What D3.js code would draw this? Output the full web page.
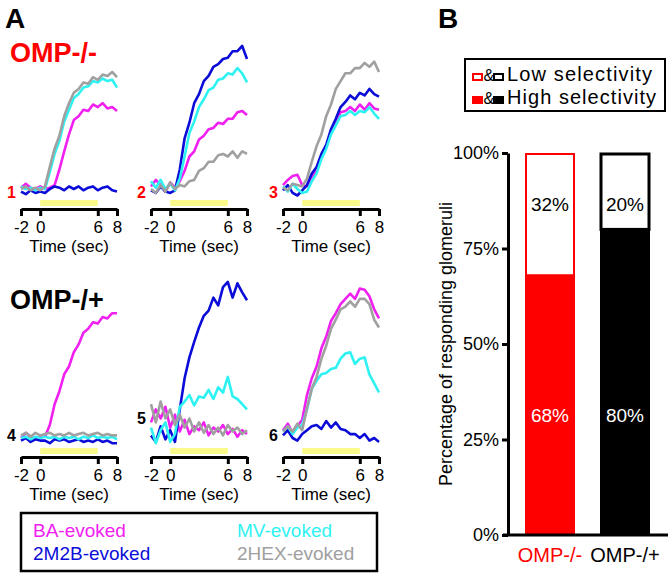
<!DOCTYPE html>
<html><head><meta charset="utf-8">
<script src="https://cdn.jsdelivr.net/npm/d3@7"></script>
<style>
body{margin:0;background:#fff;}
text{font-family:Arial,"Liberation Sans",Helvetica,sans-serif;}
</style>
</head><body>
<svg id="c" width="672" height="576"></svg>
<script>
// ---------- DATA ----------
const times = [-2,-1.5,-1,-0.5,0,0.5,1,1.5,2,2.5,3,3.5,4,4.5,5,5.5,6,6.5,7,7.5,8];
const odorants = ["BA-evoked","2M2B-evoked","MV-evoked","2HEX-evoked"];
const odorColors = ["#f020f0","#0c0cd8","#2ef2f2","#a0a0a0"];
const timeTicks = [-2,0,6,8];
const stimulus = [0,6];
const glomLabels = ["1","2","3","4","5","6"];
const genotypeA = ["OMP-/-","OMP-/+"];

// glomerulus 1 (OMP-/-)
const g1BA   = [1,4,1,0,2,0,1,3,15,29,42,53,56,61,60,65,63,66,62,63,60];
const g1M2B  = [-2,-4,-1,-3,-2,-3,0,2,1,-1,2,0,2,-1,1,2,-1,1,2,-1,-2];
const g1MV   = [2,0,1,-1,1,0,13,27,37,52,61,70,73,78,79,83,82,85,83,84,78];
const g1HEX  = [0,2,-1,1,-1,2,17,31,41,56,66,74,77,82,81,86,84,88,87,90,86];
// glomerulus 2
const g2BA   = [2,7,3,-2,5,1,6,14,25,29,38,41,46,47,51,50,54,54,59,60,57];
const g2M2B  = [-1,-3,2,-2,-3,-1,15,39,51,66,73,83,87,94,96,100,101,106,106,110,100];
const g2MV   = [6,1,7,0,4,-1,8,25,43,52,63,69,76,78,84,85,89,88,93,89,82];
const g2HEX  = [0,-3,3,-2,5,0,3,2,6,7,14,16,21,21,26,27,25,29,24,29,27];
// glomerulus 3
const g3BA   = [3,7,10,11,3,2,9,15,25,32,43,51,59,60,63,60,65,61,66,62,61];
const g3M2B  = [-1,3,-3,-5,-1,3,12,17,27,34,46,54,63,67,72,69,74,72,77,73,71];
const g3MV   = [2,-2,4,0,-3,-2,6,12,23,31,42,49,56,57,60,57,60,59,63,58,54];
const g3HEX  = [1,-1,4,3,2,8,21,33,42,56,65,77,83,89,89,93,93,97,94,98,90];
// glomerulus 4 (OMP-/+)
const g4BA   = [0,4,1,-1,1,1,10,26,36,49,55,66,72,81,84,89,88,93,92,96,96];
const g4M2B  = [-2,0,-3,-1,-2,-2,-4,-1,-2,-1,-3,-2,-1,-3,-2,-3,-1,-3,-2,-4,-4];
const g4MV   = [0,1,-1,1,0,1,0,1,-1,1,0,1,-1,1,0,2,0,1,0,1,-1];
const g4HEX  = [2,4,1,4,2,3,4,2,3,2,4,2,3,4,2,3,4,2,3,2,2];
// glomerulus 5
const g5BA   = [12,22,15,24,8,18,5,14,3,9,6,12,2,8,5,10,3,7,1,6,3];
const g5M2B  = [2,-3,9,-1,6,-3,22,46,62,74,85,94,98,108,102,116,120,108,119,112,106];
const g5MV   = [8,-4,6,12,-3,3,24,28,33,25,32,31,37,30,39,35,47,32,30,26,22];
const g5HEX  = [26,12,28,15,22,10,18,8,15,5,12,4,10,3,8,2,10,5,8,3,6];
// glomerulus 6
const g6BA   = [6,11,4,9,14,33,46,55,69,78,90,96,103,107,111,107,115,114,109,99,92];
const g6M2B  = [2,6,0,-2,3,6,9,10,7,13,8,12,7,6,3,3,0,3,-2,0,-3];
const g6MV   = [5,9,3,8,10,22,38,44,49,50,53,54,61,65,66,57,61,62,49,42,35];
const g6HEX  = [5,9,5,11,6,23,38,47,61,71,84,91,99,101,105,101,107,107,103,91,85];

// Panel B
const groups = ["OMP-/-","OMP-/+"];
const highSel = [68,80];
const lowSel = [32,20];
const groupColors = ["#ff0000","#000000"];
const pctTicks = [0,25,50,75,100];
const legendB = ["Low selectivity","High selectivity"];

// ---------- BUILD ----------
const traces = [
  [g1BA,g1M2B,g1MV,g1HEX],[g2BA,g2M2B,g2MV,g2HEX],[g3BA,g3M2B,g3MV,g3HEX],
  [g4BA,g4M2B,g4MV,g4HEX],[g5BA,g5M2B,g5MV,g5HEX],[g6BA,g6M2B,g6MV,g6HEX]
];

const svg = d3.select("#c");
const black = "#000";

// Panel letters
svg.append("text").attr("x",5).attr("y",28).attr("font-size",28).attr("font-weight","bold").text("A");
svg.append("text").attr("x",438).attr("y",28).attr("font-size",28).attr("font-weight","bold").text("B");

// Genotype headers
svg.append("text").attr("x",10).attr("y",62).attr("font-size",27).attr("font-weight","bold")
  .attr("fill","#ff0000").text(genotypeA[0]);
svg.append("text").attr("x",10).attr("y",309).attr("font-size",27).attr("font-weight","bold")
  .attr("fill",black).text(genotypeA[1]);

const colX = [21,151,283];
const rowBase = [189,438];
const rowAxis = [209,457];
const numLabelY = [198,198,198,441,424,441];

traces.forEach((tr,i)=>{
  const r = Math.floor(i/3), c = i%3;
  const x = d3.scaleLinear().domain([-2,8]).range([colX[c], colX[c]+96]);
  const y = d3.scaleLinear().domain([0,100]).range([rowBase[r], rowBase[r]-130]);
  const g = svg.append("g");
  g.append("rect").attr("x",x(stimulus[0])).attr("width",x(stimulus[1])-x(stimulus[0]))
    .attr("y",rowAxis[r]-9).attr("height",6).attr("fill","#fafa8a");
  const line = d3.line().x((d,k)=>x(times[k])).y(d=>y(d));
  tr.forEach((s,k)=>{
    g.append("path").attr("d",line(s)).attr("fill","none")
      .attr("stroke",odorColors[k]).attr("stroke-width",2.6).attr("stroke-linejoin","round");
  });
  const ax = g.append("g").attr("transform",`translate(0,${rowAxis[r]})`)
    .call(d3.axisBottom(x).tickValues(timeTicks).tickFormat(d=>String(d))
      .tickSize(7).tickSizeOuter(0).tickPadding(5));
  ax.select(".domain").attr("stroke",black).attr("stroke-width",3);
  ax.selectAll(".tick line").attr("stroke",black).attr("stroke-width",3);
  ax.selectAll(".tick text").attr("font-size",17).attr("fill",black)
    .attr("font-family","Arial,'Liberation Sans',sans-serif");
  g.append("text").attr("x",x(3)).attr("y",rowAxis[r]+43).attr("text-anchor","middle")
    .attr("font-size",17).text("Time (sec)");
  g.append("text").attr("x",colX[c]-5).attr("y",numLabelY[i]).attr("text-anchor","end")
    .attr("font-size",16).attr("font-weight","bold").attr("fill",r===0?"#ff0000":black)
    .text(glomLabels[i]);
});

// Panel A legend
svg.append("rect").attr("x",21).attr("y",513).attr("width",356).attr("height",58)
  .attr("fill","none").attr("stroke",black).attr("stroke-width",2.5);
const legPos = [[33,537],[33,560],[237,537],[237,560]];
odorants.forEach((o,k)=>{
  svg.append("text").attr("x",legPos[k][0]).attr("y",legPos[k][1]).attr("font-size",19)
    .attr("fill",odorColors[k]).text(o);
});

// ---------- Panel B ----------
const yB = d3.scaleLinear().domain([0,100]).range([535,153]);
const xB = d3.scaleBand().domain(groups).range([510,665]).paddingInner(1/3).paddingOuter(0.2);

groups.forEach((gname,i)=>{
  const bx = xB(gname), bw = xB.bandwidth();
  svg.append("rect").attr("x",bx+1).attr("y",yB(100)+1).attr("width",bw-2)
    .attr("height",yB(highSel[i])-yB(100)-1)
    .attr("fill","#fff").attr("stroke",groupColors[i]).attr("stroke-width",i===0?2:3);
  svg.append("rect").attr("x",bx).attr("y",yB(highSel[i])).attr("width",bw)
    .attr("height",yB(0)-yB(highSel[i])).attr("fill",groupColors[i]);
  svg.append("text").attr("x",bx+bw/2).attr("y",yB(86.5)).attr("dy","0.36em")
    .attr("text-anchor","middle").attr("font-size",19).attr("fill",black).text(lowSel[i]+"%");
  svg.append("text").attr("x",bx+bw/2).attr("y",yB(31.5)).attr("dy","0.36em")
    .attr("text-anchor","middle").attr("font-size",19).attr("fill","#fff").text(highSel[i]+"%");
  svg.append("text").attr("x",bx+bw/2).attr("y",562).attr("text-anchor","middle")
    .attr("font-size",20).attr("fill",groupColors[i]).text(gname);
});

const axB = svg.append("g").attr("transform","translate(508,0)")
  .call(d3.axisLeft(yB).tickValues(pctTicks).tickFormat(d=>d+"%").tickSize(6).tickSizeOuter(0).tickPadding(3));
axB.select(".domain").attr("stroke",black).attr("stroke-width",3);
axB.selectAll(".tick line").attr("stroke",black).attr("stroke-width",3);
axB.selectAll(".tick text").attr("font-size",18).attr("fill",black)
  .attr("font-family","Arial,'Liberation Sans',sans-serif");
svg.append("line").attr("x1",503).attr("x2",668).attr("y1",yB(0)).attr("y2",yB(0))
  .attr("stroke",black).attr("stroke-width",3);

svg.append("text").attr("transform",`translate(452,${yB(50)}) rotate(-90)`)
  .attr("text-anchor","middle").attr("font-size",18).text("Percentage of responding glomeruli");

// Panel B legend
svg.append("rect").attr("x",465).attr("y",59).attr("width",200).attr("height",52)
  .attr("fill","#fff").attr("stroke",black).attr("stroke-width",2);
const legLen = [145,149];
legendB.forEach((lab,k)=>{
  const base = k===0?81:104;
  const open = k===0;
  [0,1].forEach(j=>{
    const rx = j===0?472:493;
    svg.append("rect").attr("x",rx+(open?1:0)).attr("y",base-8+(open?1:0))
      .attr("width",open?9:11).attr("height",open?6:8)
      .attr("fill",open?"#fff":groupColors[j]).attr("stroke",open?groupColors[j]:"none")
      .attr("stroke-width",2);
  });
  svg.append("text").attr("x",483.5).attr("y",base).attr("font-size",16).text("&");
  svg.append("text").attr("x",507).attr("y",base).attr("font-size",20)
    .attr("textLength",legLen[k]).attr("lengthAdjust","spacing").text(lab);
});
</script>
</body></html>
